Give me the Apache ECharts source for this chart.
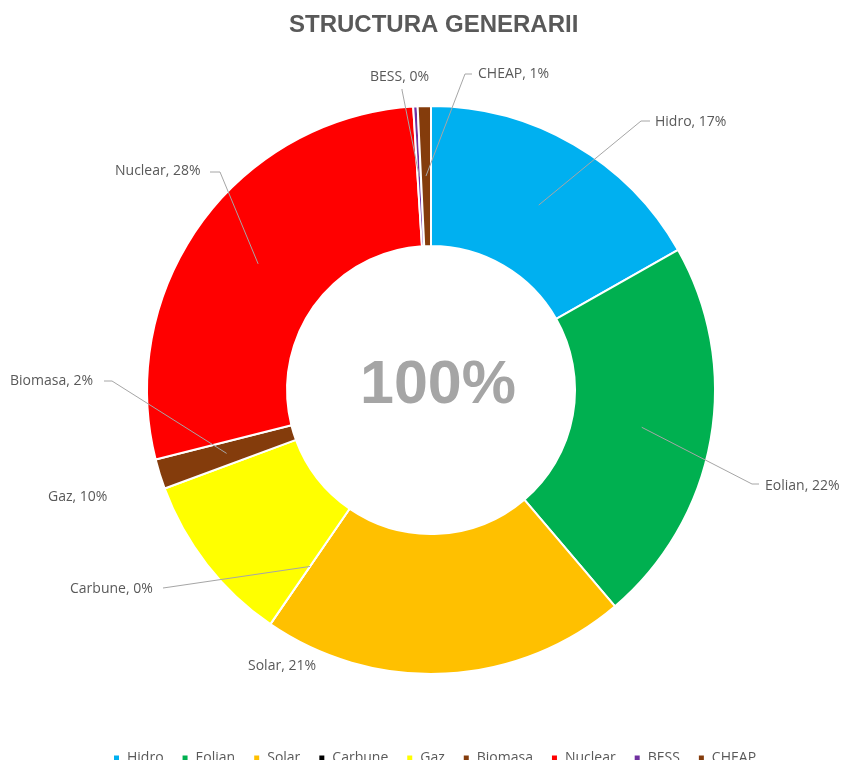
<!DOCTYPE html>
<html>
<head>
<meta charset="utf-8">
<title>Structura generarii</title>
<script src="https://cdn.jsdelivr.net/npm/echarts@6/dist/echarts.min.js"></script>
<style>
  html, body { margin: 0; padding: 0; background: #ffffff; }
  #chart { width: 844px; height: 760px; }
</style>
</head>
<body>
<div id="chart"></div>
<script>
// Generation mix, shares in percent of total output
const categories = ['Hidro', 'Eolian', 'Solar', 'Carbune', 'Gaz', 'Biomasa', 'Nuclear', 'BESS', 'CHEAP'];
const shares = [16.8, 22.0, 20.8, 0, 9.8, 1.7, 27.95, 0.25, 0.75];
const colors = ['#00B0F0', '#00B050', '#FFC000', '#000000', '#FFFF00', '#843C0C', '#FF0000', '#7030A0', '#843C0C'];
const totalLabel = '100%';

// Where each category label sits (left edge, vertical middle) and the elbow/end of its leader line
const labelSpots = {
  Hidro:   { x: 655, y: 122, line: [[641, 121], [650, 121]] },
  Eolian:  { x: 765, y: 486, line: [[752, 484], [759, 484]] },
  Solar:   { x: 248, y: 666, line: null },
  Carbune: { x: 70,  y: 589, line: [[170, 587], [163, 588]] },
  Gaz:     { x: 48,  y: 497, line: null },
  Biomasa: { x: 10,  y: 381, line: [[112, 381], [104, 381]] },
  Nuclear: { x: 115, y: 171, line: [[220, 172], [210, 172]] },
  BESS:    { x: 370, y: 77,  line: [[402, 90], [402, 89]] },
  CHEAP:   { x: 478, y: 74,  line: [[465, 74], [472, 74]] }
};

const textGrey = '#595959';
const center = [431, 390];

const ringData = categories.map((name, i) => ({
  name: name,
  value: shares[i],
  itemStyle: { color: colors[i] }
}));

// Invisible pie reaching to the middle of the ring: its label lines start mid-ring
const labelData = categories.map((name, i) => ({
  name: name,
  value: shares[i],
  itemStyle: { color: 'rgba(0,0,0,0)' },
  labelLine: { show: !!labelSpots[name].line }
}));

const chart = echarts.init(document.getElementById('chart'), null, { renderer: 'canvas' });

chart.setOption({
  animation: false,
  backgroundColor: '#ffffff',
  color: colors,
  title: {
    text: 'STRUCTURA GENERARII',
    left: 284,
    top: 8,
    textStyle: {
      fontFamily: 'Liberation Sans',
      fontSize: 24,
      fontWeight: 'bold',
      color: textGrey
    }
  },
  legend: {
    data: categories,
    left: 107,
    top: 746,
    icon: 'rect',
    itemWidth: 7,
    itemHeight: 7,
    itemGap: 17,
    selectedMode: false,
    textStyle: {
      fontFamily: 'Open Sans',
      fontSize: 14,
      color: textGrey,
      padding: [0, 0, 0, 2]
    }
  },
  graphic: [{
    type: 'text',
    x: center[0] + 7,
    y: center[1] - 4,
    silent: true,
    style: {
      text: totalLabel,
      align: 'center',
      verticalAlign: 'middle',
      font: 'bold 61px "Liberation Sans"',
      fill: '#A5A5A5'
    }
  }],
  series: [
    {
      name: 'Structura',
      type: 'pie',
      z: 2,
      center: center,
      radius: [144, 284],
      startAngle: 90,
      clockwise: true,
      silent: true,
      avoidLabelOverlap: false,
      itemStyle: { borderColor: '#ffffff', borderWidth: 2 },
      label: { show: false },
      labelLine: { show: false },
      emphasis: { disabled: true },
      data: ringData
    },
    {
      name: 'Etichete',
      type: 'pie',
      z: 4,
      center: center,
      radius: [0, 214],
      startAngle: 90,
      clockwise: true,
      silent: true,
      avoidLabelOverlap: false,
      itemStyle: { borderWidth: 0 },
      emphasis: { disabled: true },
      label: {
        show: true,
        position: 'outside',
        fontFamily: 'Open Sans',
        fontSize: 14,
        color: textGrey,
        formatter: p => p.name + ', ' + Math.round(p.percent) + '%'
      },
      labelLine: {
        show: true,
        lineStyle: { color: '#A6A6A6', width: 1 }
      },
      labelLayout: function (p) {
        const spot = labelSpots[categories[p.dataIndex]];
        const out = { x: spot.x, y: spot.y, align: 'left', verticalAlign: 'middle' };
        if (spot.line && p.labelLinePoints) {
          out.labelLinePoints = [p.labelLinePoints[0].slice(), spot.line[0], spot.line[1]];
        }
        return out;
      },
      data: labelData
    }
  ]
});
</script>
</body>
</html>
